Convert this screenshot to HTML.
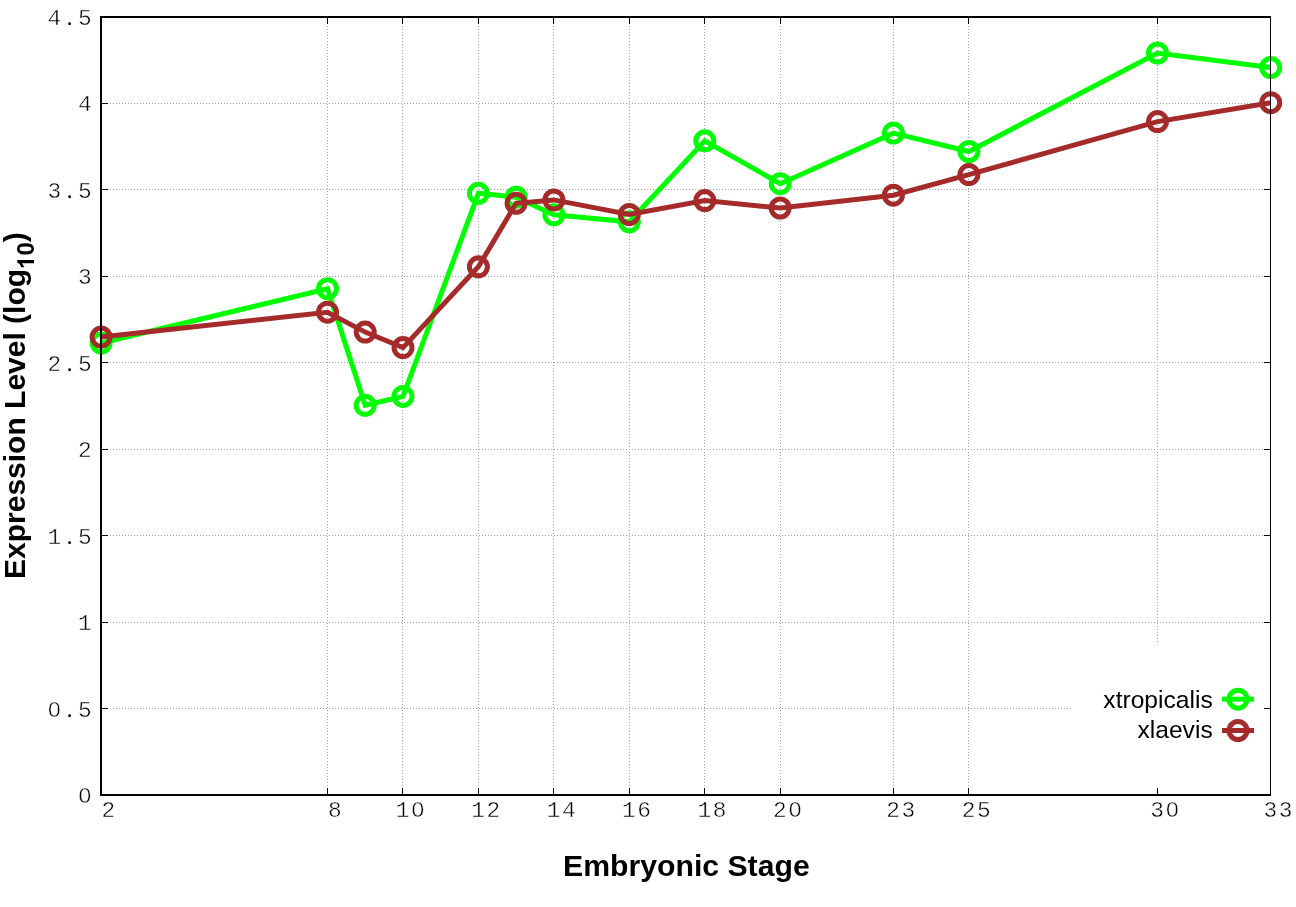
<!DOCTYPE html>
<html><head><meta charset="utf-8"><style>
html,body{margin:0;padding:0;background:#fff;width:1296px;height:907px;overflow:hidden}
svg{display:block;will-change:transform}
</style></head><body>
<svg width="1296" height="907" viewBox="0 0 1296 907"><rect x="0" y="0" width="1296" height="907" fill="#fff"/><path d="M110 708.5H1270M110 622.5H1270M110 535.5H1270M110 449.5H1270M110 362.5H1270M110 276.5H1270M110 189.5H1270M110 103.5H1270M327.5 26V794M402.5 26V794M478.5 26V794M553.5 26V794M629.5 26V794M704.5 26V794M780.5 26V794M893.5 26V794M968.5 26V794M1157.5 26V794" stroke="#a0a0a0" stroke-width="1" stroke-dasharray="1 2" fill="none"/><rect x="1071" y="642" width="199" height="152" fill="#fff"/><path d="M102 708.5H108M1270 708.5H1264M102 622.5H108M1270 622.5H1264M102 535.5H108M1270 535.5H1264M102 449.5H108M1270 449.5H1264M102 362.5H108M1270 362.5H1264M102 276.5H108M1270 276.5H1264M102 189.5H108M1270 189.5H1264M102 103.5H108M1270 103.5H1264M327.5 794V788M327.5 18V24M402.5 794V788M402.5 18V24M478.5 794V788M478.5 18V24M553.5 794V788M553.5 18V24M629.5 794V788M629.5 18V24M704.5 794V788M704.5 18V24M780.5 794V788M780.5 18V24M893.5 794V788M893.5 18V24M968.5 794V788M968.5 18V24M1157.5 794V788M1157.5 18V24" stroke="#000" stroke-width="1" fill="none"/><path d="M101.1 343.0 L327.5 288.7 L365.2 405.3 L403.0 396.4 L478.4 193.3 L516.1 197.2 L553.9 214.8 L629.3 221.8 L704.8 140.8 L780.2 183.7 L893.4 133.1 L968.9 151.5 L1157.5 53.0 L1270.7 67.5" stroke="#00ff00" stroke-width="5.0" fill="none" stroke-linejoin="miter" stroke-linecap="butt"/><circle cx="101.1" cy="343.0" r="9.0" stroke="#00ff00" stroke-width="5.0" fill="none"/><circle cx="327.5" cy="288.7" r="9.0" stroke="#00ff00" stroke-width="5.0" fill="none"/><circle cx="365.2" cy="405.3" r="9.0" stroke="#00ff00" stroke-width="5.0" fill="none"/><circle cx="403.0" cy="396.4" r="9.0" stroke="#00ff00" stroke-width="5.0" fill="none"/><circle cx="478.4" cy="193.3" r="9.0" stroke="#00ff00" stroke-width="5.0" fill="none"/><circle cx="516.1" cy="197.2" r="9.0" stroke="#00ff00" stroke-width="5.0" fill="none"/><circle cx="553.9" cy="214.8" r="9.0" stroke="#00ff00" stroke-width="5.0" fill="none"/><circle cx="629.3" cy="221.8" r="9.0" stroke="#00ff00" stroke-width="5.0" fill="none"/><circle cx="704.8" cy="140.8" r="9.0" stroke="#00ff00" stroke-width="5.0" fill="none"/><circle cx="780.2" cy="183.7" r="9.0" stroke="#00ff00" stroke-width="5.0" fill="none"/><circle cx="893.4" cy="133.1" r="9.0" stroke="#00ff00" stroke-width="5.0" fill="none"/><circle cx="968.9" cy="151.5" r="9.0" stroke="#00ff00" stroke-width="5.0" fill="none"/><circle cx="1157.5" cy="53.0" r="9.0" stroke="#00ff00" stroke-width="5.0" fill="none"/><circle cx="1270.7" cy="67.5" r="9.0" stroke="#00ff00" stroke-width="5.0" fill="none"/><path d="M101.1 337.1 L327.5 312.2 L365.2 332.1 L403.0 347.6 L478.4 266.8 L516.1 203.3 L553.9 199.9 L629.3 214.5 L704.8 200.6 L780.2 208.0 L893.4 195.2 L968.9 174.6 L1157.5 121.6 L1270.7 102.7" stroke="#a52a2a" stroke-width="5.0" fill="none" stroke-linejoin="miter" stroke-linecap="butt"/><circle cx="101.1" cy="337.1" r="9.0" stroke="#a52a2a" stroke-width="5.0" fill="none"/><circle cx="327.5" cy="312.2" r="9.0" stroke="#a52a2a" stroke-width="5.0" fill="none"/><circle cx="365.2" cy="332.1" r="9.0" stroke="#a52a2a" stroke-width="5.0" fill="none"/><circle cx="403.0" cy="347.6" r="9.0" stroke="#a52a2a" stroke-width="5.0" fill="none"/><circle cx="478.4" cy="266.8" r="9.0" stroke="#a52a2a" stroke-width="5.0" fill="none"/><circle cx="516.1" cy="203.3" r="9.0" stroke="#a52a2a" stroke-width="5.0" fill="none"/><circle cx="553.9" cy="199.9" r="9.0" stroke="#a52a2a" stroke-width="5.0" fill="none"/><circle cx="629.3" cy="214.5" r="9.0" stroke="#a52a2a" stroke-width="5.0" fill="none"/><circle cx="704.8" cy="200.6" r="9.0" stroke="#a52a2a" stroke-width="5.0" fill="none"/><circle cx="780.2" cy="208.0" r="9.0" stroke="#a52a2a" stroke-width="5.0" fill="none"/><circle cx="893.4" cy="195.2" r="9.0" stroke="#a52a2a" stroke-width="5.0" fill="none"/><circle cx="968.9" cy="174.6" r="9.0" stroke="#a52a2a" stroke-width="5.0" fill="none"/><circle cx="1157.5" cy="121.6" r="9.0" stroke="#a52a2a" stroke-width="5.0" fill="none"/><circle cx="1270.7" cy="102.7" r="9.0" stroke="#a52a2a" stroke-width="5.0" fill="none"/><path d="M101 796V17M100 17H1270M1270 795H100" stroke="#000" stroke-width="2" fill="none"/><path d="M1270.5 16V796" stroke="#000" stroke-width="1" fill="none"/><path d="M1222 699.2H1254" stroke="#00ff00" stroke-width="5.0"/><circle cx="1238" cy="699.2" r="9.0" stroke="#00ff00" stroke-width="5.0" fill="none"/><path d="M1222 730.5H1254" stroke="#a52a2a" stroke-width="5.0"/><circle cx="1238" cy="730.5" r="9.0" stroke="#a52a2a" stroke-width="5.0" fill="none"/><g font-family="Liberation Sans, sans-serif" font-size="24.6" fill="#000" text-anchor="end"><text x="1212.7" y="707.5">xtropicalis</text><text x="1212.7" y="737.7">xlaevis</text></g><g font-family="Liberation Mono, monospace" font-size="22.8" fill="#000" stroke="#fff" stroke-width="0.45"><text x="78.0" y="803.0">0</text><circle cx="84.8" cy="795.4" r="2.0" fill="#fff" stroke="none"/><text x="47.6 62.8 78.0" y="717.0">0 5</text><circle cx="54.4" cy="709.4" r="2.0" fill="#fff" stroke="none"/><circle cx="69.6" cy="715.7" r="1.45" fill="#000" stroke="none"/><text x="78.0" y="630.0">1</text><text x="47.6 62.8 78.0" y="544.0">1 5</text><circle cx="69.6" cy="542.7" r="1.45" fill="#000" stroke="none"/><text x="78.0" y="457.0">2</text><text x="47.6 62.8 78.0" y="371.0">2 5</text><circle cx="69.6" cy="369.7" r="1.45" fill="#000" stroke="none"/><text x="78.0" y="284.0">3</text><text x="47.6 62.8 78.0" y="198.0">3 5</text><circle cx="69.6" cy="196.7" r="1.45" fill="#000" stroke="none"/><text x="78.0" y="111.0">4</text><text x="47.6 62.8 78.0" y="25.0">4 5</text><circle cx="69.6" cy="23.7" r="1.45" fill="#000" stroke="none"/><text x="101.5" y="817.0">2</text><text x="327.9" y="817.0">8</text><text x="395.8 411.0" y="817.0">10</text><circle cx="417.8" cy="809.4" r="2.0" fill="#fff" stroke="none"/><text x="471.2 486.4" y="817.0">12</text><text x="546.7 561.9" y="817.0">14</text><text x="622.1 637.3" y="817.0">16</text><text x="697.6 712.8" y="817.0">18</text><text x="773.0 788.2" y="817.0">20</text><circle cx="795.0" cy="809.4" r="2.0" fill="#fff" stroke="none"/><text x="886.2 901.4" y="817.0">23</text><text x="961.7 976.9" y="817.0">25</text><text x="1150.3 1165.5" y="817.0">30</text><circle cx="1172.3" cy="809.4" r="2.0" fill="#fff" stroke="none"/><text x="1263.5 1278.7" y="817.0">33</text></g><text x="563.1" y="876" font-family="Liberation Sans, sans-serif" font-weight="bold" font-size="30.2">Embryonic Stage</text><g transform="translate(24.8 579) rotate(-90)" font-family="Liberation Sans, sans-serif" font-weight="bold" fill="#000"><text x="0" y="0" font-size="30">Expression Level (log</text><path transform="translate(310.094 9.2) scale(0.011719 -0.011719)" d="M763 0H488V1036Q337 895 132 828V1077Q240 1112 366 1210Q492 1308 539 1430H763Z"/><text x="323.446" y="9.2" font-size="24">0</text><text x="336.797" y="0" font-size="30">)</text></g></svg>
</body></html>
